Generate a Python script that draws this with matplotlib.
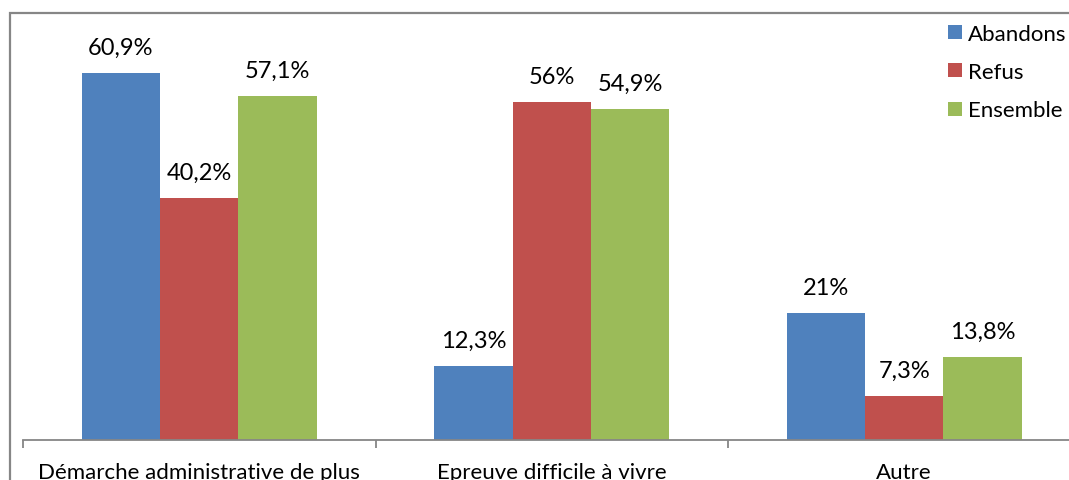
import numpy as np
import matplotlib
matplotlib.use("Agg")
import matplotlib.pyplot as plt
from matplotlib.patches import Rectangle

plt.rcParams['font.family'] = ['Lato', 'DejaVu Sans']

categories = ["Démarche administrative de plus", "Epreuve difficile à vivre", "Autre"]
series = ["Abandons", "Refus", "Ensemble"]
abandons = [60.9, 12.3, 21.0]
refus = [40.2, 56.0, 7.3]
ensemble = [57.1, 54.9, 13.8]
labels_abandons = ["60,9%", "12,3%", "21%"]
labels_refus = ["40,2%", "56%", "7,3%"]
labels_ensemble = ["57,1%", "54,9%", "13,8%"]

colors = ["#4F81BD", "#C0504D", "#9BBB59"]
grey = "#868686"

fig = plt.figure(figsize=(10.69, 4.81), dpi=100)
# outer chart frame (cut by the image on right and bottom)
fig.patches.append(Rectangle((9.5 / 1069, -0.05), 1.1, 1 - 13.5 / 481 + 0.05,
                             transform=fig.transFigure, fill=False,
                             edgecolor=grey, linewidth=1.6))

ax = fig.add_axes([23 / 1069, 40 / 481, 1057.5 / 1069, 422 / 481])
x = np.arange(len(categories))
w = 78.3 / 352.5
data = [abandons, refus, ensemble]
labs = [labels_abandons, labels_refus, labels_ensemble]
for i, (vals, lab) in enumerate(zip(data, labs)):
    pos = x + (i - 1) * w
    ax.bar(pos, vals, width=w, color=colors[i], label=series[i], linewidth=0)
    for px, v, t in zip(pos, vals, lab):
        ax.annotate(t, (px, v), xytext=(0, 13.7), textcoords="offset points",
                    ha="center", va="baseline", fontsize=17)

ax.set_xlim(-0.5, 2.5)
ax.set_ylim(0, 70)
ax.set_yticks([])
for s in ["top", "right", "left"]:
    ax.spines[s].set_visible(False)
ax.spines["bottom"].set_color(grey)
ax.spines["bottom"].set_linewidth(1.3)
ax.set_xticks(x)
ax.set_xticklabels(categories, fontsize=16)
ax.tick_params(axis="x", which="major", length=0, pad=16)
ax.set_xticks([-0.5, 0.5, 1.5, 2.5], minor=True)
ax.tick_params(axis="x", which="minor", length=6, color=grey, width=1.3)

ax.legend(loc="upper left", bbox_to_anchor=(948 / 1069, 1 - 25 / 481),
          bbox_transform=fig.transFigure, frameon=False, fontsize=16,
          handlelength=0.63, handleheight=0.6, handletextpad=0.25,
          labelspacing=0.82, borderaxespad=0, borderpad=0)

fig.savefig("out.png", dpi=100)
